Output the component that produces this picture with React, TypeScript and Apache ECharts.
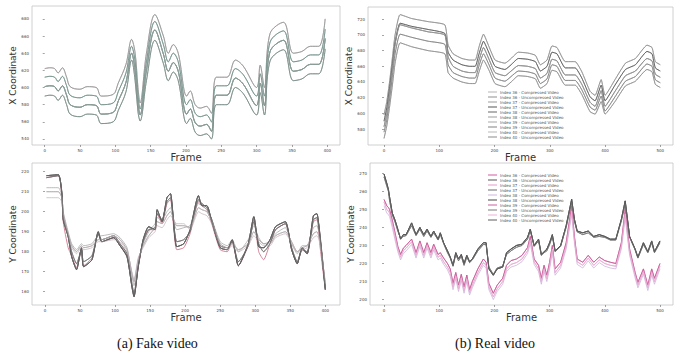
import React, { useEffect, useRef } from "react";
import * as echarts from "echarts";

// ---------- shared ----------
const indices = [36, 37, 38, 39, 40];
const legendNames = indices.flatMap((i) => [
  `Index ${i} - Compressed Video`,
  `Index ${i} - Uncompressed Video`,
]);
const leftXTicks = [0, 50, 100, 150, 200, 250, 300, 350, 400];
const rightXTicks = [0, 100, 200, 300, 400, 500];
const tlYTicks = [540, 560, 580, 600, 620, 640, 660, 680];
const blYTicks = [160, 170, 180, 190, 200, 210, 220];
const trYTicks = [580, 600, 620, 640, 660, 680, 700, 720];
const brYTicks = [200, 210, 220, 230, 240, 250, 260, 270];

// ---------- (a) Fake video, X coordinate ----------
const tlFrames = [0, 7, 14, 19, 25, 31, 36, 50, 60, 73, 80, 97, 104, 115, 123, 128, 132, 135, 144, 156, 168, 175, 182, 189, 201, 206, 213, 220, 229, 236, 243, 258, 270, 281, 300, 305, 311, 319, 338, 352, 364, 376, 388, 397];
const tlBand1 = [622, 623, 622, 617, 623, 612, 601, 598, 601, 600, 590, 592, 605, 627, 656, 640, 600, 582, 640, 685, 660, 640, 650, 640, 590, 596, 580, 576, 578, 570, 612, 612, 632, 625, 600, 626, 600, 663, 676, 640, 642, 648, 648, 680];
const tlBand2 = [612, 613, 612, 607, 613, 602, 591, 588, 591, 590, 580, 582, 595, 617, 648, 630, 590, 575, 630, 677, 650, 630, 640, 630, 580, 586, 570, 566, 568, 560, 602, 602, 622, 615, 590, 616, 590, 653, 666, 630, 632, 638, 638, 668];
const tlBand3 = [601, 602, 601, 596, 602, 591, 580, 577, 580, 579, 569, 571, 584, 606, 640, 620, 582, 568, 620, 667, 639, 619, 629, 619, 569, 575, 559, 555, 557, 549, 591, 591, 611, 604, 579, 605, 579, 642, 655, 619, 621, 627, 627, 657];
const tlBand4 = [590, 591, 590, 585, 591, 580, 569, 566, 569, 568, 558, 560, 573, 595, 632, 608, 572, 561, 608, 655, 628, 608, 618, 608, 558, 564, 548, 544, 546, 540, 580, 580, 600, 593, 568, 594, 568, 631, 644, 608, 610, 616, 616, 645];

// ---------- (a) Fake video, Y coordinate ----------
const blFrames = [2, 19, 24, 26, 33, 38, 45, 52, 55, 67, 76, 81, 98, 107, 117, 124, 127, 133, 140, 148, 157, 160, 167, 174, 179, 188, 198, 207, 219, 224, 231, 238, 250, 260, 267, 276, 290, 298, 305, 312, 321, 329, 343, 352, 360, 367, 374, 383, 388, 392, 400];
const blDark1 = [218, 218.5, 209, 196, 187.5, 177.5, 171, 182, 172.5, 176, 190, 185, 187, 183, 177.5, 162.5, 157.5, 172.5, 186, 192.5, 191, 201, 195, 207, 209, 182.5, 184, 191, 208, 203, 203, 195, 182, 181, 186, 173, 184, 197.5, 182.5, 182, 186, 192.5, 195, 181, 174, 182, 179, 198, 199, 189, 161];
const blDark2 = [217, 218, 210, 198, 188, 180, 174, 181, 175, 178, 189, 186, 188, 184, 179, 164, 159, 173, 185, 191, 192, 199, 196, 205, 207, 185, 186, 190, 206, 204, 202, 196, 183, 182, 185, 175, 183, 195, 184, 180, 184, 191, 194, 182, 175, 181, 180, 196, 197, 190, 162];
const blPink = [217, 218, 208, 195, 182, 178, 172, 181, 173, 177, 189, 185, 187, 183, 178, 163, 158, 172, 185, 191, 191, 199, 194, 204, 206, 181, 182, 189, 205, 203, 201, 194, 181, 180, 185, 173, 183, 196, 180, 176, 184, 191, 194, 181, 174, 181, 179, 195, 196, 184, 161];
const blLight1 = [212, 212, 208, 200, 190, 184, 181, 184, 183, 184, 188, 188, 189, 187, 182, 168, 163, 175, 184, 190, 194, 197, 196, 200, 202, 191, 192, 193, 204, 203, 201, 196, 185, 183, 186, 180, 186, 193, 187, 184, 185, 189, 192, 184, 179, 183, 183, 192, 193, 188, 163];
const blLight2 = [210, 210, 207, 199, 189, 183, 180, 183, 182, 183, 186, 186, 188, 186, 181, 169, 165, 176, 183, 188, 192, 195, 194, 198, 200, 193, 193, 192, 202, 201, 200, 195, 184, 182, 184, 181, 184, 190, 186, 184, 184, 188, 190, 185, 180, 182, 183, 189, 190, 186, 164];
const blLight3 = [207, 207, 205, 198, 188, 182, 179, 182, 181, 182, 185, 185, 186, 185, 180, 170, 166, 177, 182, 187, 190, 193, 192, 196, 198, 194, 194, 191, 200, 199, 198, 194, 183, 181, 183, 180, 183, 188, 185, 183, 183, 187, 189, 184, 180, 181, 182, 187, 188, 185, 165];

// ---------- (b) Real video, X coordinate ----------
const trFrames = [0, 5, 10, 15, 20, 29, 50, 80, 110, 116, 125, 141, 155, 165, 172, 180, 190, 201, 219, 230, 243, 260, 274, 283, 295, 304, 313, 328, 346, 358, 373, 382, 393, 400, 418, 437, 455, 476, 485, 491, 500];
const trBand1 = [598, 615, 640, 670, 700, 726, 721, 717, 713, 687, 676, 670, 668, 668, 685, 701, 685, 668, 664, 670, 678, 677, 674, 662, 668, 686, 684, 666, 666, 653, 628, 623, 643, 623, 643, 664, 670, 687, 684, 666, 662];
const trBand2 = [590, 607, 632, 661, 690, 715, 711, 707, 702, 678, 668, 662, 660, 660, 676, 692, 677, 660, 656, 662, 670, 669, 666, 654, 660, 678, 676, 658, 658, 645, 621, 616, 636, 616, 636, 656, 662, 679, 676, 658, 654];
const trBand3 = [583, 600, 626, 656, 688, 713, 709, 704, 700, 672, 660, 654, 652, 652, 668, 684, 669, 652, 648, 654, 661, 660, 657, 645, 651, 669, 667, 649, 649, 637, 614, 609, 629, 609, 628, 648, 654, 670, 667, 650, 646];
const trBand4 = [576, 592, 617, 646, 676, 701, 697, 692, 688, 662, 652, 647, 645, 645, 661, 676, 662, 645, 641, 647, 654, 653, 650, 638, 644, 662, 660, 642, 642, 630, 608, 604, 622, 603, 621, 641, 647, 663, 660, 643, 639];
const trBand5 = [568, 584, 608, 635, 664, 690, 685, 680, 676, 652, 645, 640, 638, 638, 653, 668, 655, 638, 634, 640, 648, 647, 644, 632, 638, 655, 653, 636, 636, 624, 602, 599, 615, 599, 615, 635, 641, 656, 653, 637, 633];

// ---------- (b) Real video, Y coordinate ----------
const brFrames = [0, 5, 8, 10, 15, 20, 25, 30, 35, 40, 50, 58, 65, 72, 78, 85, 90, 98, 102, 108, 115, 120, 125, 130, 135, 140, 145, 150, 155, 160, 170, 180, 185, 190, 198, 205, 215, 222, 230, 240, 250, 260, 265, 272, 280, 285, 290, 295, 300, 305, 310, 320, 330, 340, 345, 350, 360, 370, 380, 390, 400, 410, 420, 430, 437, 445, 455, 460, 470, 478, 485, 490, 500];
const brDark1 = [269.6, 264.5, 261, 257, 248, 244, 239, 233.5, 236, 236, 242.5, 236, 240, 236, 239, 235, 238, 233.5, 237, 231.5, 227, 223.6, 219, 226, 222.5, 225, 220, 224.5, 221, 222.5, 228, 231.5, 231.5, 217, 213.5, 217, 218, 226, 228, 230, 230.7, 234.5, 239, 230, 233.5, 225, 226.5, 228, 231.5, 236, 227, 230, 241, 255.6, 244.5, 238, 237, 238, 235, 236, 235, 233.5, 233.5, 244.5, 254.7, 235, 228, 223.5, 231.5, 226.5, 232.5, 226.5, 232.5];
const brDark2 = [268, 263, 260, 255, 247, 243, 238, 234, 235, 235.5, 241, 235.5, 239, 235, 238, 234.5, 237, 233, 236, 231, 226, 223, 218.5, 225, 221.5, 224, 219, 223.5, 220.5, 222, 227, 230.5, 230.5, 218, 214, 217.5, 218.5, 225, 227, 229, 230, 233.5, 238, 229.5, 232.5, 224.5, 226, 227, 230.5, 235, 226.5, 229.5, 240, 254, 243.5, 237.5, 236, 237, 234.5, 235, 234.5, 233, 233, 243.5, 253, 234.5, 227.5, 223, 230.5, 226, 231.5, 226, 231.5];
const brPink1 = [255.5, 252, 251, 250, 244, 237, 229.5, 225, 228.5, 230, 233.5, 226, 232.5, 226, 231.5, 226, 230.7, 225, 226, 223, 220, 217, 209, 215, 208, 214, 207, 213.6, 205.5, 210, 217, 222.5, 220.7, 209, 203.5, 208, 211.8, 219, 221.6, 222.5, 224.5, 228.8, 235, 222.5, 219, 211.8, 219, 213.5, 220.7, 230, 217, 220.7, 231.5, 252, 235, 222.5, 220.7, 224.5, 220.7, 223.6, 221.6, 220.7, 220, 231.5, 250, 228, 215, 209.5, 217, 208, 217, 211.8, 220];
const brPink2 = [254, 250, 249, 248, 242, 235, 228, 223.5, 227, 228.5, 232, 224.5, 231, 224.5, 230, 224.5, 229, 223.5, 224.5, 221, 218, 215, 207, 213, 206, 212, 205, 211.5, 204, 208, 215, 220.5, 219, 207, 201.5, 206, 210, 217, 219.5, 220.5, 222.5, 227, 233, 221, 217, 210, 217, 211.5, 218.5, 228, 215, 219, 229.5, 249, 233, 221, 219, 223, 219, 222, 220, 219, 218.5, 229.5, 247.5, 226, 213.5, 208, 215.5, 206.5, 215, 210, 218.5];
const brLav = [252, 248, 247, 246, 240, 233, 226.5, 222, 225.5, 227, 230.5, 223, 229.5, 223, 228.5, 223, 227.5, 222, 223, 219.5, 216.5, 213, 205.5, 211.5, 204.5, 210.5, 203.5, 210, 202.5, 206.5, 213.5, 219, 217.5, 205.5, 200, 204.5, 208.5, 215.5, 218, 219, 221, 225.5, 231, 219.5, 215.5, 208.5, 215.5, 210, 217, 226, 213.5, 217.5, 228, 247, 231.5, 219.5, 217.5, 221.5, 217.5, 220.5, 218.5, 217.5, 217, 228, 245.5, 224.5, 212, 206.5, 214, 205, 213.5, 208.5, 217];

// per-panel assignment of the 10 series (order = legendNames)
const tlData = [tlBand1, tlBand1, tlBand2, tlBand2, tlBand3, tlBand3, tlBand3, tlBand3, tlBand4, tlBand4];
const tlColors = ["#c7a4ac", "#8c9a97", "#6fa59c", "#7f8f8c", "#98a7a3", "#76908b", "#a4b0ad", "#83958f", "#8ea29d", "#7b8c88"];
const blData = [blPink, blDark1, blLight1, blDark2, blLight2, blDark1, blLight3, blDark2, blLight2, blDark1];
const blColors = ["#c9657e", "#5a5a5a", "#a9a9a9", "#6b6b6b", "#bdbdbd", "#4f4f4f", "#c9b8c0", "#777777", "#b3aab0", "#666666"];
const trData = [trBand1, trBand1, trBand2, trBand2, trBand3, trBand3, trBand4, trBand4, trBand5, trBand5];
const trColors = ["#b4b4b4", "#8e8e8e", "#9c9c9c", "#555555", "#666666", "#9a9a9a", "#a8a8a8", "#808080", "#b8b8b8", "#8a8a8a"];
const brData = [brPink1, brDark1, brPink2, brDark2, brLav, brDark1, brPink1, brDark2, brPink2, brDark1];
const brColors = ["#d35a9e", "#555555", "#e39bc8", "#6a6a6a", "#cdb4dc", "#474747", "#c9609c", "#787878", "#eab3d6", "#5c5c5c"];

const grids = [
  { left: 32, top: 6, width: 308, height: 139 },
  { left: 32, top: 163, width: 308, height: 142 },
  { left: 368, top: 7, width: 305, height: 138 },
  { left: 370, top: 163, width: 303, height: 142 },
];

const PREFIX = /^(fakeX|fakeY|realY) /;

export default function App() {
  const ref = useRef<HTMLDivElement>(null);
  useEffect(() => {
    if (!ref.current) return;
    const chart = echarts.init(ref.current, undefined, { renderer: "svg" });
    const tickLabel = { fontSize: 4, color: "#444", margin: 3, fontFamily: "DejaVu Sans" };
    const tick = { show: true, length: 2, lineStyle: { color: "#666", width: 0.6 } };
    const xAxis = (idx: number, min: number, max: number, ticks: number[]) => ({
      type: "value",
      gridIndex: idx,
      min,
      max,
      name: "Frame",
      nameLocation: "middle",
      nameGap: 7,
      nameTextStyle: { fontSize: 10, color: "#333", fontFamily: "DejaVu Sans" },
      axisLine: { show: false },
      axisTick: { ...tick, customValues: ticks },
      axisLabel: { ...tickLabel, customValues: ticks },
      splitLine: { show: false },
    });
    const yAxis = (idx: number, min: number, max: number, ticks: number[], name: string) => ({
      type: "value",
      gridIndex: idx,
      min,
      max,
      name,
      nameLocation: "middle",
      nameGap: 14,
      nameTextStyle: { fontSize: 9, color: "#333", fontFamily: "DejaVu Sans" },
      axisLine: { show: false },
      axisTick: { ...tick, customValues: ticks },
      axisLabel: { ...tickLabel, customValues: ticks },
      splitLine: { show: false },
    });
    const series: any[] = [];
    const add = (panel: number, prefix: string, frames: number[], data: number[][], colors: string[], smooth: number) => {
      data.forEach((vals, k) => {
        series.push({
          type: "line",
          name: prefix + legendNames[k],
          xAxisIndex: panel,
          yAxisIndex: panel,
          data: frames.map((f, i) => [f, vals[i]]),
          symbol: "none",
          smooth,
          lineStyle: { color: colors[k], width: 0.8 },
          itemStyle: { color: colors[k] },
          z: 2,
        });
      });
    };
    add(0, "fakeX ", tlFrames, tlData, tlColors, 0.35);
    add(1, "fakeY ", blFrames, blData, blColors, 0.2);
    add(2, "", trFrames, trData, trColors, 0.15);
    add(3, "realY ", brFrames, brData, brColors, 0);
    const legend = (top: number, colors: string[], prefix: string) => ({
      orient: "vertical",
      left: 488,
      top,
      padding: 0,
      itemGap: 1,
      itemWidth: 9,
      itemHeight: 1,
      icon: "rect",
      formatter: (n: string) => n.replace(PREFIX, ""),
      textStyle: { fontSize: 4, color: "#555", fontFamily: "DejaVu Sans", padding: [0, 0, 0, -2] },
      data: legendNames.map((n, k) => ({ name: prefix + n, itemStyle: { color: colors[k] } })),
    });
    chart.setOption({
      animation: false,
      backgroundColor: "#fff",
      grid: grids.map((g) => ({ ...g, show: true, borderColor: "#c4c4c4", borderWidth: 0.8, backgroundColor: "#fff" })),
      xAxis: [
        xAxis(0, -18, 418, leftXTicks),
        xAxis(1, -18.6, 421, leftXTicks),
        xAxis(2, -29, 523, rightXTicks),
        xAxis(3, -25.4, 523.6, rightXTicks),
      ],
      yAxis: [
        yAxis(0, 533, 695, tlYTicks, "X Coordinate"),
        yAxis(1, 153.35, 224.35, blYTicks, "Y Coordinate"),
        yAxis(2, 559.6, 735.7, trYTicks, "X Coordinate"),
        yAxis(3, 197, 275.7, brYTicks, "Y Coordinate"),
      ],
      legend: [legend(90, trColors, ""), legend(173, brColors, "realY ")],
      series,
      graphic: [
        { type: "text", left: 117, top: 336, style: { text: "(a) Fake video", fontSize: 14, fontFamily: "Liberation Serif", fill: "#111" } },
        { type: "text", left: 455, top: 336, style: { text: "(b) Real video", fontSize: 14, fontFamily: "Liberation Serif", fill: "#111" } },
      ],
    });
    return () => chart.dispose();
  }, []);
  return (
    <div
      ref={ref}
      style={{ position: "fixed", left: 0, top: 0, width: 675, height: 363, background: "#fff" }}
    />
  );
}
